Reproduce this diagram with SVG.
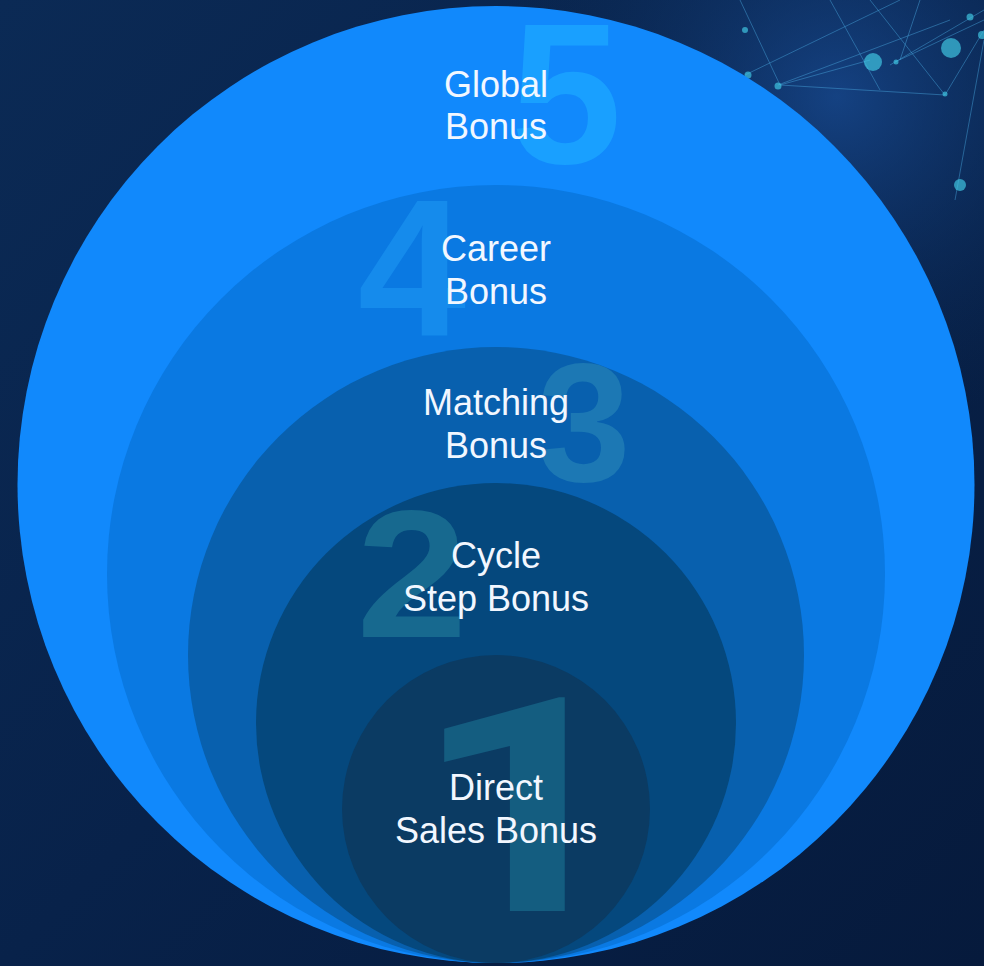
<svg xmlns="http://www.w3.org/2000/svg" width="984" height="966" viewBox="0 0 984 966">
  <defs>
    <linearGradient id="bg" x1="0" y1="0" x2="1" y2="1">
      <stop offset="0" stop-color="#0b2a55"/>
      <stop offset="0.5" stop-color="#08224a"/>
      <stop offset="1" stop-color="#061a3c"/>
    </linearGradient>
    <radialGradient id="glow" cx="0.85" cy="0.1" r="0.35">
      <stop offset="0" stop-color="#1a4f9a" stop-opacity="0.7"/>
      <stop offset="1" stop-color="#0b2a55" stop-opacity="0"/>
    </radialGradient>
    <style>
      .lbl { font-family: "Liberation Sans", Arial, sans-serif; font-size: 36px; fill: #f2f7ff; text-anchor: middle; }
      .num { font-family: "Liberation Sans", Arial, sans-serif; font-weight: bold; text-anchor: middle; }
      .one { font-family: Roboto, "Liberation Sans", sans-serif; font-weight: bold; text-anchor: middle; }
      .net line { stroke: #4aa8e0; stroke-width: 1; stroke-opacity: 0.45; }
      .net circle { fill: #3fc3e0; fill-opacity: 0.7; }
    </style>
  </defs>

  <rect width="984" height="966" fill="url(#bg)"/>
  <rect width="984" height="966" fill="url(#glow)"/>

  <g class="net">
    <line x1="740" y1="0" x2="780" y2="85"/>
    <line x1="780" y1="85" x2="870" y2="60"/>
    <line x1="745" y1="75" x2="900" y2="0"/>
    <line x1="778" y1="85" x2="950" y2="20"/>
    <line x1="780" y1="85" x2="945" y2="95"/>
    <line x1="830" y1="0" x2="880" y2="90"/>
    <line x1="895" y1="62" x2="984" y2="20"/>
    <line x1="870" y1="0" x2="945" y2="95"/>
    <line x1="945" y1="95" x2="984" y2="30"/>
    <line x1="984" y1="40" x2="955" y2="200"/>
    <line x1="890" y1="65" x2="984" y2="10"/>
    <line x1="900" y1="60" x2="920" y2="0"/>
    <circle cx="745" cy="30" r="3"/>
    <circle cx="748" cy="75" r="3.5"/>
    <circle cx="778" cy="86" r="3.5"/>
    <circle cx="873" cy="62" r="9" fill-opacity="0.35"/>
    <circle cx="896" cy="62" r="2.5"/>
    <circle cx="945" cy="94" r="2.5"/>
    <circle cx="951" cy="48" r="10" fill-opacity="0.3"/>
    <circle cx="970" cy="17" r="3.5"/>
    <circle cx="982" cy="35" r="4"/>
    <circle cx="960" cy="185" r="6" fill-opacity="0.25"/>
  </g>

  <g id="node-global">
    <circle cx="496" cy="484.5" r="478.5" fill="#1189fc"/>
    <text class="num" x="566" y="163" font-size="200" fill="#19a0ff">5</text>
    <text class="lbl" x="496" y="97">Global</text>
    <text class="lbl" x="496" y="139">Bonus</text>
  </g>

  <g id="node-career">
    <circle cx="496" cy="574" r="389" fill="#0a79e2"/>
    <text class="num" x="412" y="335" font-size="195" fill="#158bec">4</text>
    <text class="lbl" x="496" y="261">Career</text>
    <text class="lbl" x="496" y="304">Bonus</text>
  </g>

  <g id="node-matching">
    <circle cx="496" cy="655" r="308" fill="#0860ae"/>
    <text class="num" x="584" y="481" font-size="168" fill="#1c78b4">3</text>
    <text class="lbl" x="496" y="415">Matching</text>
    <text class="lbl" x="496" y="458">Bonus</text>
  </g>

  <g id="node-cycle">
    <circle cx="496" cy="723" r="240" fill="#05487d"/>
    <text class="num" x="0" y="0" font-size="182" fill="#17698f" transform="translate(412,637) scale(1.1,1)">2</text>
    <text class="lbl" x="496" y="568">Cycle</text>
    <text class="lbl" x="496" y="611">Step Bonus</text>
  </g>

  <g id="node-direct">
    <circle cx="496" cy="809" r="154" fill="#0b3b63"/>
    <text class="one" x="0" y="0" font-size="300" fill="#145d80" transform="translate(524,911) scale(1.3,1)">1</text>
    <text class="lbl" x="496" y="800">Direct</text>
    <text class="lbl" x="496" y="843">Sales Bonus</text>
  </g>

  <g id="connectors"></g>
</svg>
